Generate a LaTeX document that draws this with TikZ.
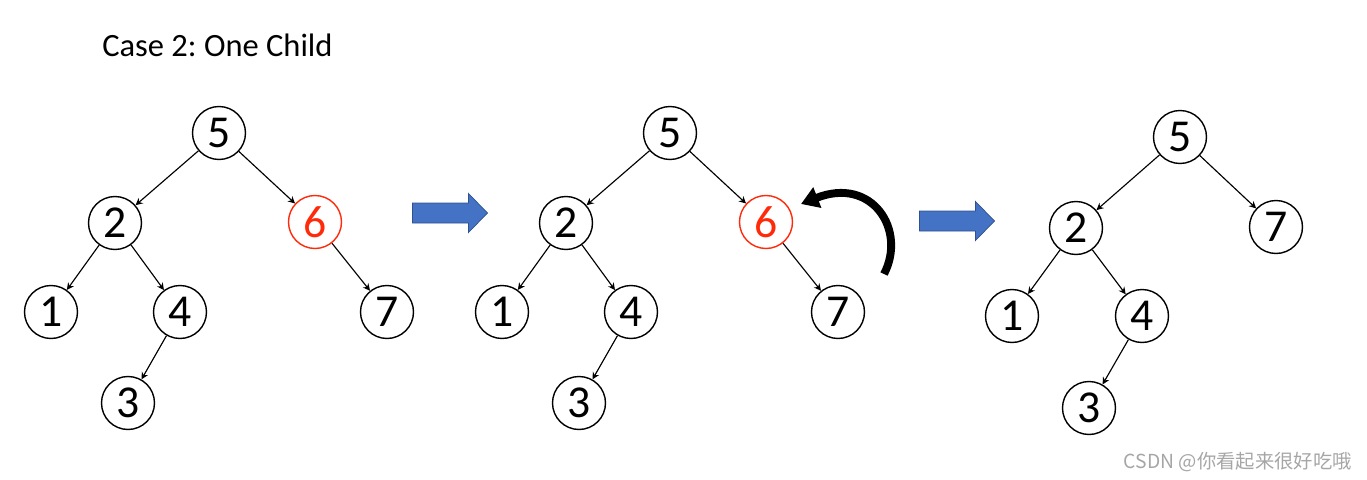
\documentclass[tikz,border=0pt]{standalone}
\usepackage{fontspec}
\setmainfont{Carlito}
\newfontfamily\cjkfont{Noto Sans CJK SC}
\usetikzlibrary{arrows.meta}
\frenchspacing
\definecolor{tred}{HTML}{FF2A0A}
\definecolor{tblue}{HTML}{4472C4}
\definecolor{tblueline}{HTML}{2F528F}
\definecolor{tgray}{HTML}{A6A6A6}
\tikzset{
  vtx/.style={circle,draw=black,line width=0.8pt,minimum size=1.06cm,inner sep=0pt,font=\fontsize{26}{26}\selectfont},
  hot/.style={vtx,draw=tred,text=tred},
  edge/.style={-{Stealth[length=4pt,width=4pt]},line width=0.65pt},
  move/.style={fill=tblue,draw=tblueline,line width=0.4pt},
  turn/.style={-{Triangle[length=10pt,width=12pt]},line width=4.5pt},
}

\begin{document}
\begin{tikzpicture}[x=0.02cm,y=-0.02cm]
  \useasboundingbox (0,0) rectangle (1367,480);
  \node[anchor=base west,inner sep=0pt,font=\fontsize{18.5}{20}\selectfont] (title) at (102,56) {Case 2: One Child};
  % before and during: same tree, shifted
  \foreach \t/\dx in {a/0,b/451} {
    \foreach \n/\x/\y/\s in {5/219/133/vtx,2/115/223/vtx,6/315/222/hot,1/51/312/vtx,4/180/312/vtx,7/387/312/vtx,3/128/403/vtx}
      \node[\s] (\t\n) at (\x+\dx,\y) {\n};
    \foreach \p/\c in {5/2,5/6,2/1,2/4,4/3,6/7}
      \draw[edge] (\t\p) -- (\t\c);
  }
  % after: 6 removed, 7 moved up
  \foreach \n/\x/\y in {5/1180/137,2/1076/228,7/1276/227,1/1012/316,4/1142/316,3/1089/408}
    \node[vtx] (c\n) at (\x,\y) {\n};
  \foreach \p/\c in {5/2,5/7,2/1,2/4,4/3}
    \draw[edge] (c\p) -- (c\c);
  % step arrows
  \foreach \x/\y in {449.5/213,956.5/221}
    \draw[move] (\x-37,\y-10) -- (\x+19,\y-10) -- (\x+19,\y-19.5) -- (\x+38,\y)
      -- (\x+19,\y+19.5) -- (\x+19,\y+10) -- (\x-37,\y+10) -- cycle;
  % 7 takes the place of 6
  \coordinate (turnfrom) at (884,274);
  \coordinate (turnto) at (801,204);
  \draw[turn] (turnfrom) .. controls (907,230) and (872,176) .. (turnto);
  \node[anchor=base east,inner sep=0pt,font=\cjkfont\fontsize{11}{13}\selectfont,text=tgray] (mark) at (1352,468) {CSDN @你看起来很好吃哦};
\end{tikzpicture}
\end{document}
